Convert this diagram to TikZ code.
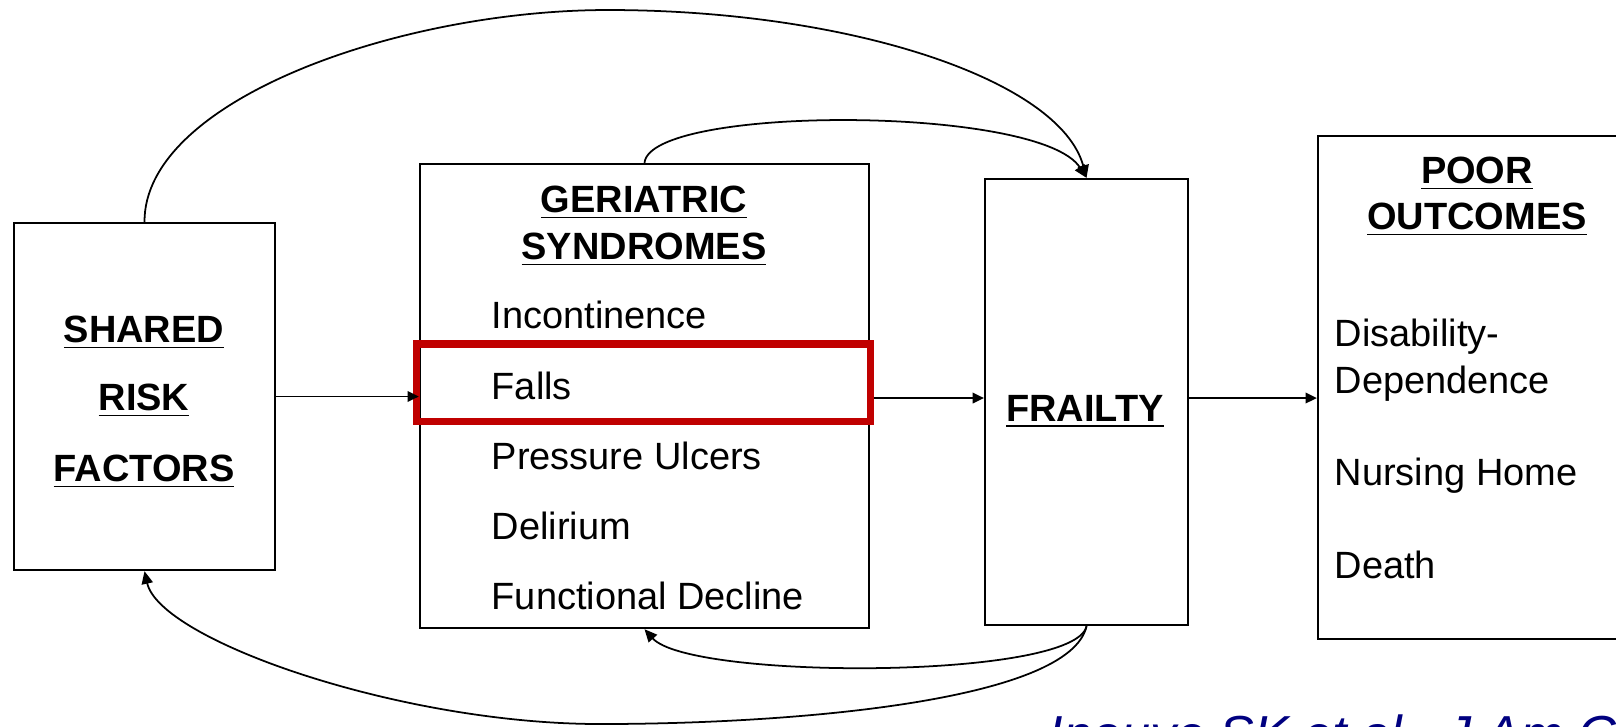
\documentclass[tikz,border=0pt]{standalone}
\usepackage{fontspec}
\setmainfont{Liberation Sans}
\usetikzlibrary{arrows.meta}
\definecolor{hilite}{RGB}{192,0,0}
\definecolor{citeblue}{RGB}{0,0,128}
\newcommand{\headword}[1]{\underline{\textbf{#1}}}

\begin{document}
\begin{tikzpicture}[x=0.01cm, y=-0.01cm,
  box/.style={draw=black, line width=0.6pt, rectangle, inner sep=0pt},
  head/.style={anchor=base, inner sep=0pt, font=\fontsize{10.8}{13}\selectfont},
  item/.style={anchor=base west, inner sep=0pt, font=\fontsize{10.8}{13}\selectfont},
  arr/.style={line width=0.5pt, -{Triangle[length=3.2pt,width=3pt]}},
  curve/.style={line width=0.5pt, -{Triangle[length=3.6pt,width=3.2pt]}},
  plain/.style={line width=0.5pt}
]
\useasboundingbox (0,0) rectangle (1616,726);
\clip (0,0) rectangle (1616,726);

% boxes
\node[box, minimum width=2.61cm, minimum height=3.47cm] (sr) at (144.5,396.5) {};
\node[box, minimum width=4.49cm, minimum height=4.64cm] (gs) at (644.5,396) {};
\node[box, minimum width=2.03cm, minimum height=4.46cm] (fr) at (1086.5,402) {};
\node[box, minimum width=3.42cm, minimum height=5.03cm] (po) at (1489,387.5) {};
\node[draw=hilite, line width=2pt, rectangle, inner sep=0pt,
      minimum width=4.53cm, minimum height=0.77cm] (red) at (643.5,382.5) {};

% shared risk factors
\node[head] (srA) at (144,342) {\headword{SHARED}};
\node[head] (srB) at (144,410) {\headword{RISK}};
\node[head] (srC) at (144,481) {\headword{FACTORS}};

% geriatric syndromes
\node[head] (gsA) at (644,212) {\headword{GERIATRIC}};
\node[head] (gsB) at (644,259) {\headword{SYNDROMES}};
\node[item] (g1) at (491,328) {Incontinence};
\node[item] (g2) at (491,399) {Falls};
\node[item] (g3) at (491,469) {Pressure Ulcers};
\node[item] (g4) at (491,539) {Delirium};
\node[item] (g5) at (491,609) {Functional Decline};

% frailty
\node[head] (frA) at (1085,421) {\headword{FRAILTY}};

% poor outcomes
\node[head] (poA) at (1477,183) {\headword{POOR}};
\node[head] (poB) at (1477,229) {\headword{OUTCOMES}};
\node[item] (p1) at (1334,346) {Disability-};
\node[item] (p2) at (1334,393) {Dependence};
\node[item] (p3) at (1334,485) {Nursing Home};
\node[item] (p4) at (1334,578) {Death};

% straight connectors
\coordinate (lvl) at (0,398);
\draw[arr] (sr.east) -- (sr.east -| gs.west);
\draw[arr] (red.east |- lvl) -- (fr.west |- lvl);
\draw[arr] (fr.east |- lvl) -- (po.west |- lvl);

% curved feedback connectors
\coordinate (peak) at (608,10);
\coordinate (low) at (600,724);
\draw[curve] (sr.north) .. controls (144,100) and (400,10) .. (peak)
  .. controls (850,10) and (1060,80) .. (fr.north);
\draw[curve] (gs.north) .. controls (650,105) and (1040,105) .. (fr.north);
\draw[curve] (fr.south) .. controls (1075,680) and (690,680) .. (gs.south);
\draw[curve] (fr.south) .. controls (1070,700) and (800,724) .. (low)
  .. controls (400,724) and (160,640) .. (sr.south);

% citation
\node[anchor=base west, inner sep=0pt, text=citeblue,
      font=\fontsize{14.8}{17}\selectfont\itshape] (cite) at (1048,752)
  {Inouye SK et al., J Am G};
\end{tikzpicture}
\end{document}
